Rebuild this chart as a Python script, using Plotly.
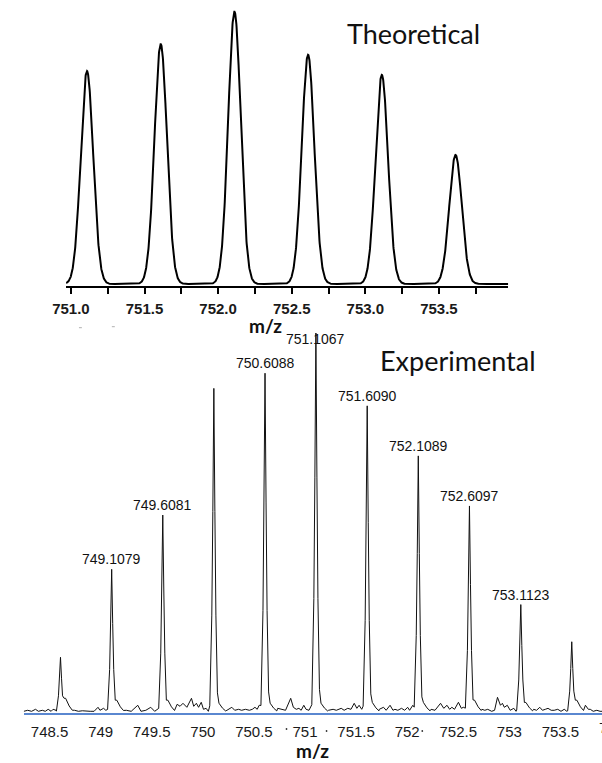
import numpy as np
import plotly.graph_objects as go

W, H = 602, 763

# ---- Theoretical isotope pattern (centroid m/z, relative abundance %) ----
theo_mz = [751.109, 751.610, 752.111, 752.611, 753.112, 753.613]
theo_rel = [78.2, 88.1, 100.0, 84.2, 76.8, 47.4]
theo_sigma = 0.0425  # Gaussian line width used to render the profile

top_ticks = [751.0, 751.5, 752.0, 752.5, 753.0, 753.5]
top_minor = [751.25, 751.75, 752.25, 752.75, 753.25, 753.75]

# ---- Experimental spectrum ----
exp_mz = [748.607, 749.1079, 749.6081, 750.108, 750.6088, 751.1067,
          751.6090, 752.1089, 752.6097, 753.1123, 753.611]
exp_rel = [14.5, 37.7, 52.0, 85.4, 89.4, 100.0, 80.8, 67.6, 54.4, 28.4, 18.6]
exp_tail = [3.7, 3.2, 3.2, 2.4, 2.4, 2.4, 2.6, 2.6, 3.2, 2.6, 3.2]
exp_label = ["", "749.1079", "749.6081", "", "750.6088", "751.1067",
             "751.6090", "752.1089", "752.6097", "753.1123", ""]
label_dy = [10, 10, 10, 10, 10, -6, 10, 10, 10, 10, 10]

# baseline noise between the isotope peaks (m/z, relative %)
noise_mz = [748.2475, 748.2857, 748.3240, 748.3622, 748.3909, 748.4291, 748.4578,
            748.4865, 748.5152, 748.5343, 748.5630,
            748.7446, 748.7829, 748.8211, 748.8593, 748.8976, 748.9358, 748.9741,
            748.9932, 749.0286, 749.0505,
            749.2513, 749.2991, 749.3632, 749.3947, 749.4425, 749.4903, 749.5286,
            749.7484, 749.7771, 749.8058, 749.8440, 749.8890, 749.9109, 749.9368,
            749.9587, 749.9846, 750.0065, 750.0323, 750.0543,
            750.2360, 750.2838, 750.3125, 750.3507, 750.3794, 750.4176, 750.4559,
            750.4846, 750.5104, 750.5324, 750.5515,
            750.7332, 750.7714, 750.8096, 750.8603, 750.8861, 750.9148, 750.9406,
            750.9626, 750.9884, 751.0104, 751.0391,
            751.2303, 751.2752, 751.3068, 751.3546, 751.3832, 751.4186, 751.4502,
            751.4817, 751.5075, 751.5295, 751.5553,
            751.7274, 751.7685, 751.7943, 751.8326, 751.8612, 751.8804, 751.9090,
            751.9444, 751.9760, 752.0046, 752.0238, 752.0553,
            752.2341, 752.2724, 752.3269, 752.3584, 752.3899, 752.4157, 752.4377,
            752.4635, 752.5018, 752.5305, 752.5496,
            752.7313, 752.7599, 752.7886, 752.8269, 752.8555, 752.8842, 752.9129,
            752.9320, 752.9511, 752.9798, 753.0085, 753.0439, 753.0658,
            753.2379, 753.2666, 753.2981, 753.3239, 753.3526, 753.3784, 753.4100,
            753.4387, 753.4741, 753.5056, 753.5372, 753.5630,
            753.7446, 753.7733, 753.7924, 753.8211, 753.8565, 753.8880, 753.9170]
noise_rel = [0.26, 0.53, 0.26, 0.79, 0.26, 0.53, 0.26, 0.79, 0.26, 0.79, 0.53,
             0.53, 0.26, 0.40, 0.26, 0.26, 0.26, 1.32, 0.53, 1.05, 0.53,
             0.53, 0.26, 1.85, 0.26, 0.53, 1.32, 0.26,
             2.11, 1.58, 2.37, 1.32, 3.69, 1.58, 2.37, 1.32, 2.64, 0.79, 1.05, 0.26,
             0.53, 1.32, 0.53, 0.79, 0.53, 0.79, 0.53, 0.79, 1.32, 0.79, 1.85,
             1.05, 0.79, 0.53, 3.69, 1.32, 0.79, 1.05, 0.53, 1.85, 0.79, 0.53,
             0.53, 0.79, 0.53, 1.05, 0.53, 1.05, 0.79, 2.37, 1.05, 1.85, 0.79,
             0.79, 1.32, 0.53, 1.85, 0.53, 0.79, 0.53, 1.05, 0.53, 1.32, 0.53, 1.85,
             0.79, 0.53, 2.37, 1.05, 1.85, 0.79, 1.32, 0.79, 2.64, 1.05, 1.32,
             0.79, 0.53, 0.79, 0.26, 0.53, 3.95, 1.85, 2.37, 1.32, 1.85, 0.53, 1.05, 0.26,
             0.79, 0.53, 1.32, 0.53, 0.79, 1.05, 0.53, 0.53, 0.79, 0.26, 0.79, 0.26,
             1.85, 0.79, 0.79, 0.26, 0.53, 0.26, 0.26]

bottom_ticks = [748.5, 749.0, 749.5, 750.0, 750.5, 751.0, 751.5, 752.0, 752.5, 753.0, 753.5]
bottom_ticktext = ["748.5", "749", "749.5", "750", "750.5", "751", "751.5",
                   "752", "752.5", "753", "753.5"]

# ---- page geometry helpers (margins are zero, so paper == page) ----
def px_x(p):
    return p / W


def px_y(p):
    return 1 - p / H


# top panel geometry
top_x_range = [750.967, 753.971]
top_x_dom = [px_x(53.3), px_x(506)]
t_base, t_full, t_bot, t_top = 284.0, 11.7, 286.0, 2.0
t_ppu = (t_base - t_full) / 100.0
top_y_range = [(t_base - t_bot) / t_ppu, (t_base - t_top) / t_ppu]
top_y_dom = [px_y(t_bot), px_y(t_top)]

# bottom panel geometry
bot_x_range = [748.2475, 753.907]
bot_x_dom = [px_x(10), 1.0]
b_base, b_full, b_bot, b_top = 712.3, 333.0, 713.0, 328.0
b_ppu = (b_base - b_full) / 100.0
bot_y_range = [(b_base - b_bot) / b_ppu, (b_base - b_top) / b_ppu]
bot_y_dom = [px_y(b_bot), px_y(b_top)]

# ---- theoretical profile: Gaussian line shape on each centroid ----
tx = np.linspace(top_x_range[0], top_x_range[1], 2400)
ty = np.zeros_like(tx)
for m, a in zip(theo_mz, theo_rel):
    ty += a * np.exp(-0.5 * ((tx - m) / theo_sigma) ** 2)

# ---- experimental profile: sharp peak shape + right tail, plus noise ----
core_off = [-0.04, -0.02, -0.01, 0.0, 0.01, 0.02, 0.035]
core_frac = [0.02, 0.30, 0.62, 1.0, 0.62, 0.30, 0.06]
tail_off = [0.05, 0.085, 0.115]
tail_frac = [1.0, 0.45, 0.15]

pts = []
for m, a, t in zip(exp_mz, exp_rel, exp_tail):
    for o, f in zip(core_off, core_frac):
        pts.append((m + o, max(a * f, t if o > 0.03 else 0.3)))
    for o, f in zip(tail_off, tail_frac):
        pts.append((m + o, t * f))
for m, a in zip(noise_mz, noise_rel):
    if not any(c - 0.041 <= m <= c + 0.116 for c in exp_mz):
        pts.append((m, a))
pts.sort()
ex = [p[0] for p in pts]
ey = [p[1] for p in pts]

fig = go.Figure()
fig.add_trace(go.Scatter(x=tx, y=ty, mode="lines", xaxis="x", yaxis="y",
                         line=dict(color="black", width=2), hoverinfo="skip"))
fig.add_trace(go.Scatter(x=ex, y=ey, mode="lines", xaxis="x2", yaxis="y2",
                         line=dict(color="#111111", width=1), hoverinfo="skip"))

tick_font_b = dict(family="Liberation Sans, Arial", size=15, color="#1a1a1a", weight="bold")
tick_font = dict(family="Liberation Sans, Arial", size=15, color="#1a1a1a")

fig.update_layout(
    width=W, height=H,
    margin=dict(l=0, r=0, t=0, b=0),
    paper_bgcolor="white", plot_bgcolor="white",
    showlegend=False,
    xaxis=dict(domain=top_x_dom, range=top_x_range, showgrid=False, zeroline=False,
               showline=True, linecolor="black", linewidth=1.5,
               ticks="outside", ticklen=6, tickwidth=1.5, tickcolor="black",
               tickmode="array", tickvals=top_ticks,
               ticktext=[f"{v:.1f}" for v in top_ticks],
               minor=dict(tickmode="array", tickvals=top_minor, ticks="outside",
                          ticklen=6, tickwidth=1.5, tickcolor="black"),
               tickfont=tick_font_b, ticklabelstandoff=2, anchor="y"),
    yaxis=dict(domain=top_y_dom, range=top_y_range, visible=False, anchor="x"),
    xaxis2=dict(domain=bot_x_dom, range=bot_x_range, showgrid=False, zeroline=False,
                showline=True, linecolor="#5a87d0", linewidth=2,
                ticks="", tickmode="array", tickvals=bottom_ticks,
                ticktext=bottom_ticktext, tickfont=tick_font,
                ticklabelstandoff=4, anchor="y2"),
    yaxis2=dict(domain=bot_y_dom, range=bot_y_range, visible=False, anchor="x2"),
)

annotations = []
for m, a, lab, dy in zip(exp_mz, exp_rel, exp_label, label_dy):
    if lab:
        annotations.append(dict(x=m, y=a, xref="x2", yref="y2", text=lab,
                                showarrow=False, yanchor="middle", yshift=dy,
                                font=dict(family="Liberation Sans, Arial", size=14,
                                          color="#111111")))

title_font = dict(family="Lato", size=27, color="#111111")
axis_title_font = dict(family="Lato", size=19, color="#111111", weight="bold")
annotations += [
    dict(x=px_x(409), y=px_y(33), xref="paper", yref="paper", text="Theoretical",
         showarrow=False, font=title_font, xanchor="center", yanchor="middle"),
    dict(x=px_x(455), y=px_y(361), xref="paper", yref="paper", text="Experimental",
         showarrow=False, font=title_font, xanchor="center", yanchor="middle"),
    dict(x=px_x(257), y=px_y(325), xref="paper", yref="paper", text="m/z",
         showarrow=False, font=axis_title_font, xanchor="center", yanchor="middle"),
    dict(x=px_x(306), y=px_y(750), xref="paper", yref="paper", text="m/z",
         showarrow=False, font=axis_title_font, xanchor="center", yanchor="middle"),
]

# the 754 tick label lies just past the right edge of the page
x754 = bot_x_dom[0] + (754 - bot_x_range[0]) / (bot_x_range[1] - bot_x_range[0]) * (bot_x_dom[1] - bot_x_dom[0])
annotations.append(dict(x=x754, y=px_y(727.3), xref="paper", yref="paper", text="754",
                        showarrow=False, font=tick_font, xanchor="center", yanchor="middle"))
fig.update_layout(annotations=annotations)

# faint specks below the top axis
for cx, cy in [(68, 327.7), (101.7, 326.7)]:
    fig.add_shape(type="line", xref="paper", yref="paper",
                  x0=px_x(cx - 1.5), x1=px_x(cx + 1.5), y0=px_y(cy), y1=px_y(cy),
                  line=dict(color="#b0b0b0", width=1))

# small stray dots among the lower tick labels
for cx, cy in [(279, 729), (320, 731), (418, 731)]:
    fig.add_shape(type="circle", xref="paper", yref="paper",
                  x0=px_x(cx - 0.9), x1=px_x(cx + 0.9), y0=px_y(cy - 0.9), y1=px_y(cy + 0.9),
                  fillcolor="#333333", line=dict(width=0))

fig.write_html("out.html")
